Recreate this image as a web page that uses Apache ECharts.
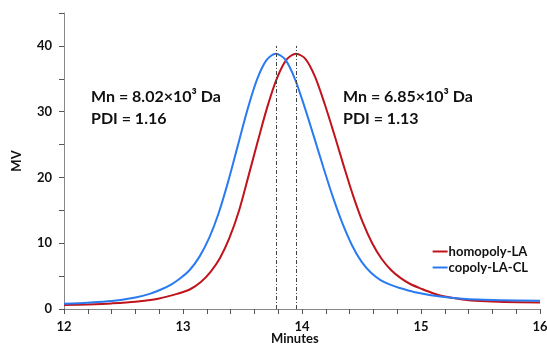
<!DOCTYPE html>
<html>
<head>
<meta charset="utf-8">
<script src="https://cdn.jsdelivr.net/npm/echarts@6/dist/echarts.min.js"></script>
<style>
    html, body { margin: 0; padding: 0; background: #fff; }
    #main { width: 547px; height: 344px; }
</style>
</head>
<body>
<div id="main"></div>
<script>
    // GPC traces, [minutes, MV]
    let homopolyLA = [
        [12, 0.6], [12.2, 0.7], [12.4, 0.85], [12.6, 1.1], [12.8, 1.6], [12.95, 2.3],
        [13.06, 3.0], [13.15, 4.1], [13.23, 5.6], [13.31, 7.7], [13.39, 10.8],
        [13.47, 14.9], [13.55, 20.2], [13.63, 25.6], [13.71, 30.8], [13.79, 35.1],
        [13.87, 37.9], [13.95, 38.8], [14.03, 38.0], [14.11, 35.3], [14.19, 31.2],
        [14.27, 26.6], [14.35, 21.8], [14.43, 17.2], [14.51, 13.2], [14.59, 10.0],
        [14.67, 7.6], [14.75, 5.9], [14.83, 4.7], [14.91, 3.8], [15.0, 3.1],
        [15.1, 2.4], [15.2, 1.9], [15.35, 1.45], [15.5, 1.2], [15.7, 1.05], [16, 1.0]
    ];
    let copolyLACL = [
        [12, 0.8], [12.2, 0.95], [12.4, 1.2], [12.6, 1.75], [12.72, 2.3], [12.82, 3.0],
        [12.9, 3.7], [12.98, 4.7], [13.06, 6.0], [13.14, 8.0], [13.22, 10.8],
        [13.30, 14.6], [13.38, 19.4], [13.46, 24.8], [13.54, 30.2], [13.62, 34.8],
        [13.70, 37.8], [13.78, 38.8], [13.86, 37.9], [13.94, 35.0], [14.02, 30.8],
        [14.10, 26.2], [14.18, 21.5], [14.26, 17.0], [14.34, 13.0], [14.42, 9.7],
        [14.50, 7.2], [14.58, 5.5], [14.66, 4.4], [14.74, 3.7], [14.82, 3.2],
        [14.94, 2.6], [15.16, 1.9], [15.35, 1.55], [15.6, 1.35], [16, 1.25]
    ];
    let peakMinutes = [13.78, 13.95];
    let seriesNames = ['homopoly-LA', 'copoly-LA-CL'];
    let notes = [
        ['Mn = 8.02×10³ Da', 'PDI = 1.16'],
        ['Mn = 6.85×10³ Da', 'PDI = 1.13']
    ];

    let font = 'Lato, "Open Sans", sans-serif';
    let chart = echarts.init(document.getElementById('main'));

    let option = {
        animation: false,
        grid: {left: 64, right: 7, top: 13, bottom: 35, containLabel: false, outerBoundsMode: 'none'},
        legend: {
            data: seriesNames,
            orient: 'vertical',
            right: 14,
            top: 240,
            icon: 'rect',
            itemWidth: 15,
            itemHeight: 2,
            itemGap: 3,
            textStyle: {fontFamily: font, fontWeight: 'bold', fontSize: 13, color: '#111', padding: [0, 0, 0, -4]}
        },
        xAxis: {
            type: 'value',
            min: 12,
            max: 16,
            interval: 1,
            axisLine: {show: true, onZero: false, lineStyle: {color: '#888'}},
            axisTick: {show: true, inside: false, length: 5, lineStyle: {color: '#555'}},
            minorTick: {show: true, splitNumber: 5, length: 5, lineStyle: {color: '#555'}},
            splitLine: {show: false},
            axisLabel: {fontFamily: font, fontWeight: 'bold', fontSize: 13, color: '#111', margin: 11}
        },
        yAxis: {
            type: 'value',
            min: 0,
            max: 45,
            interval: 10,
            name: 'MV',
            nameLocation: 'middle',
            nameGap: 41,
            nameTextStyle: {fontFamily: font, fontWeight: 'bold', fontSize: 13, color: '#111'},
            axisLine: {show: true, lineStyle: {color: '#888'}},
            axisTick: {show: true, inside: false, length: 5, lineStyle: {color: '#555'}},
            minorTick: {show: true, splitNumber: 2, length: 5, lineStyle: {color: '#555'}},
            splitLine: {show: false},
            axisLabel: {
                fontFamily: font, fontWeight: 'bold', fontSize: 13, color: '#111', margin: 12,
                formatter: function (v) { return v % 10 === 0 ? v : ''; }
            }
        },
        series: [
            {
                name: seriesNames[0],
                type: 'line',
                smooth: 0.3,
                showSymbol: false,
                color: '#C0141C',
                lineStyle: {width: 2},
                data: homopolyLA,
                markLine: {
                    silent: true,
                    symbol: 'none',
                    label: {show: false},
                    lineStyle: {color: '#444', width: 1, type: [4, 2, 1, 2]},
                    data: peakMinutes.map(function (m) {
                        return [{coord: [m, 0]}, {coord: [m, 40]}];
                    })
                }
            },
            {
                name: seriesNames[1],
                type: 'line',
                smooth: 0.3,
                showSymbol: false,
                color: '#2B7BF0',
                lineStyle: {width: 2},
                data: copolyLACL
            }
        ],
        graphic: [
            {
                type: 'text', left: 91, top: 86,
                style: {text: notes[0].join('\n'), font: 'bold 16px ' + font, fill: '#111', lineHeight: 22}
            },
            {
                type: 'text', left: 343, top: 86,
                style: {text: notes[1].join('\n'), font: 'bold 16px ' + font, fill: '#111', lineHeight: 22}
            },
            // x axis title sits low, partly cut by the bottom edge
            {
                type: 'text', left: 271, top: 332,
                style: {text: 'Minutes', font: 'bold 13px ' + font, fill: '#111'}
            }
        ]
    };

    chart.setOption(option);
</script>
</body>
</html>
